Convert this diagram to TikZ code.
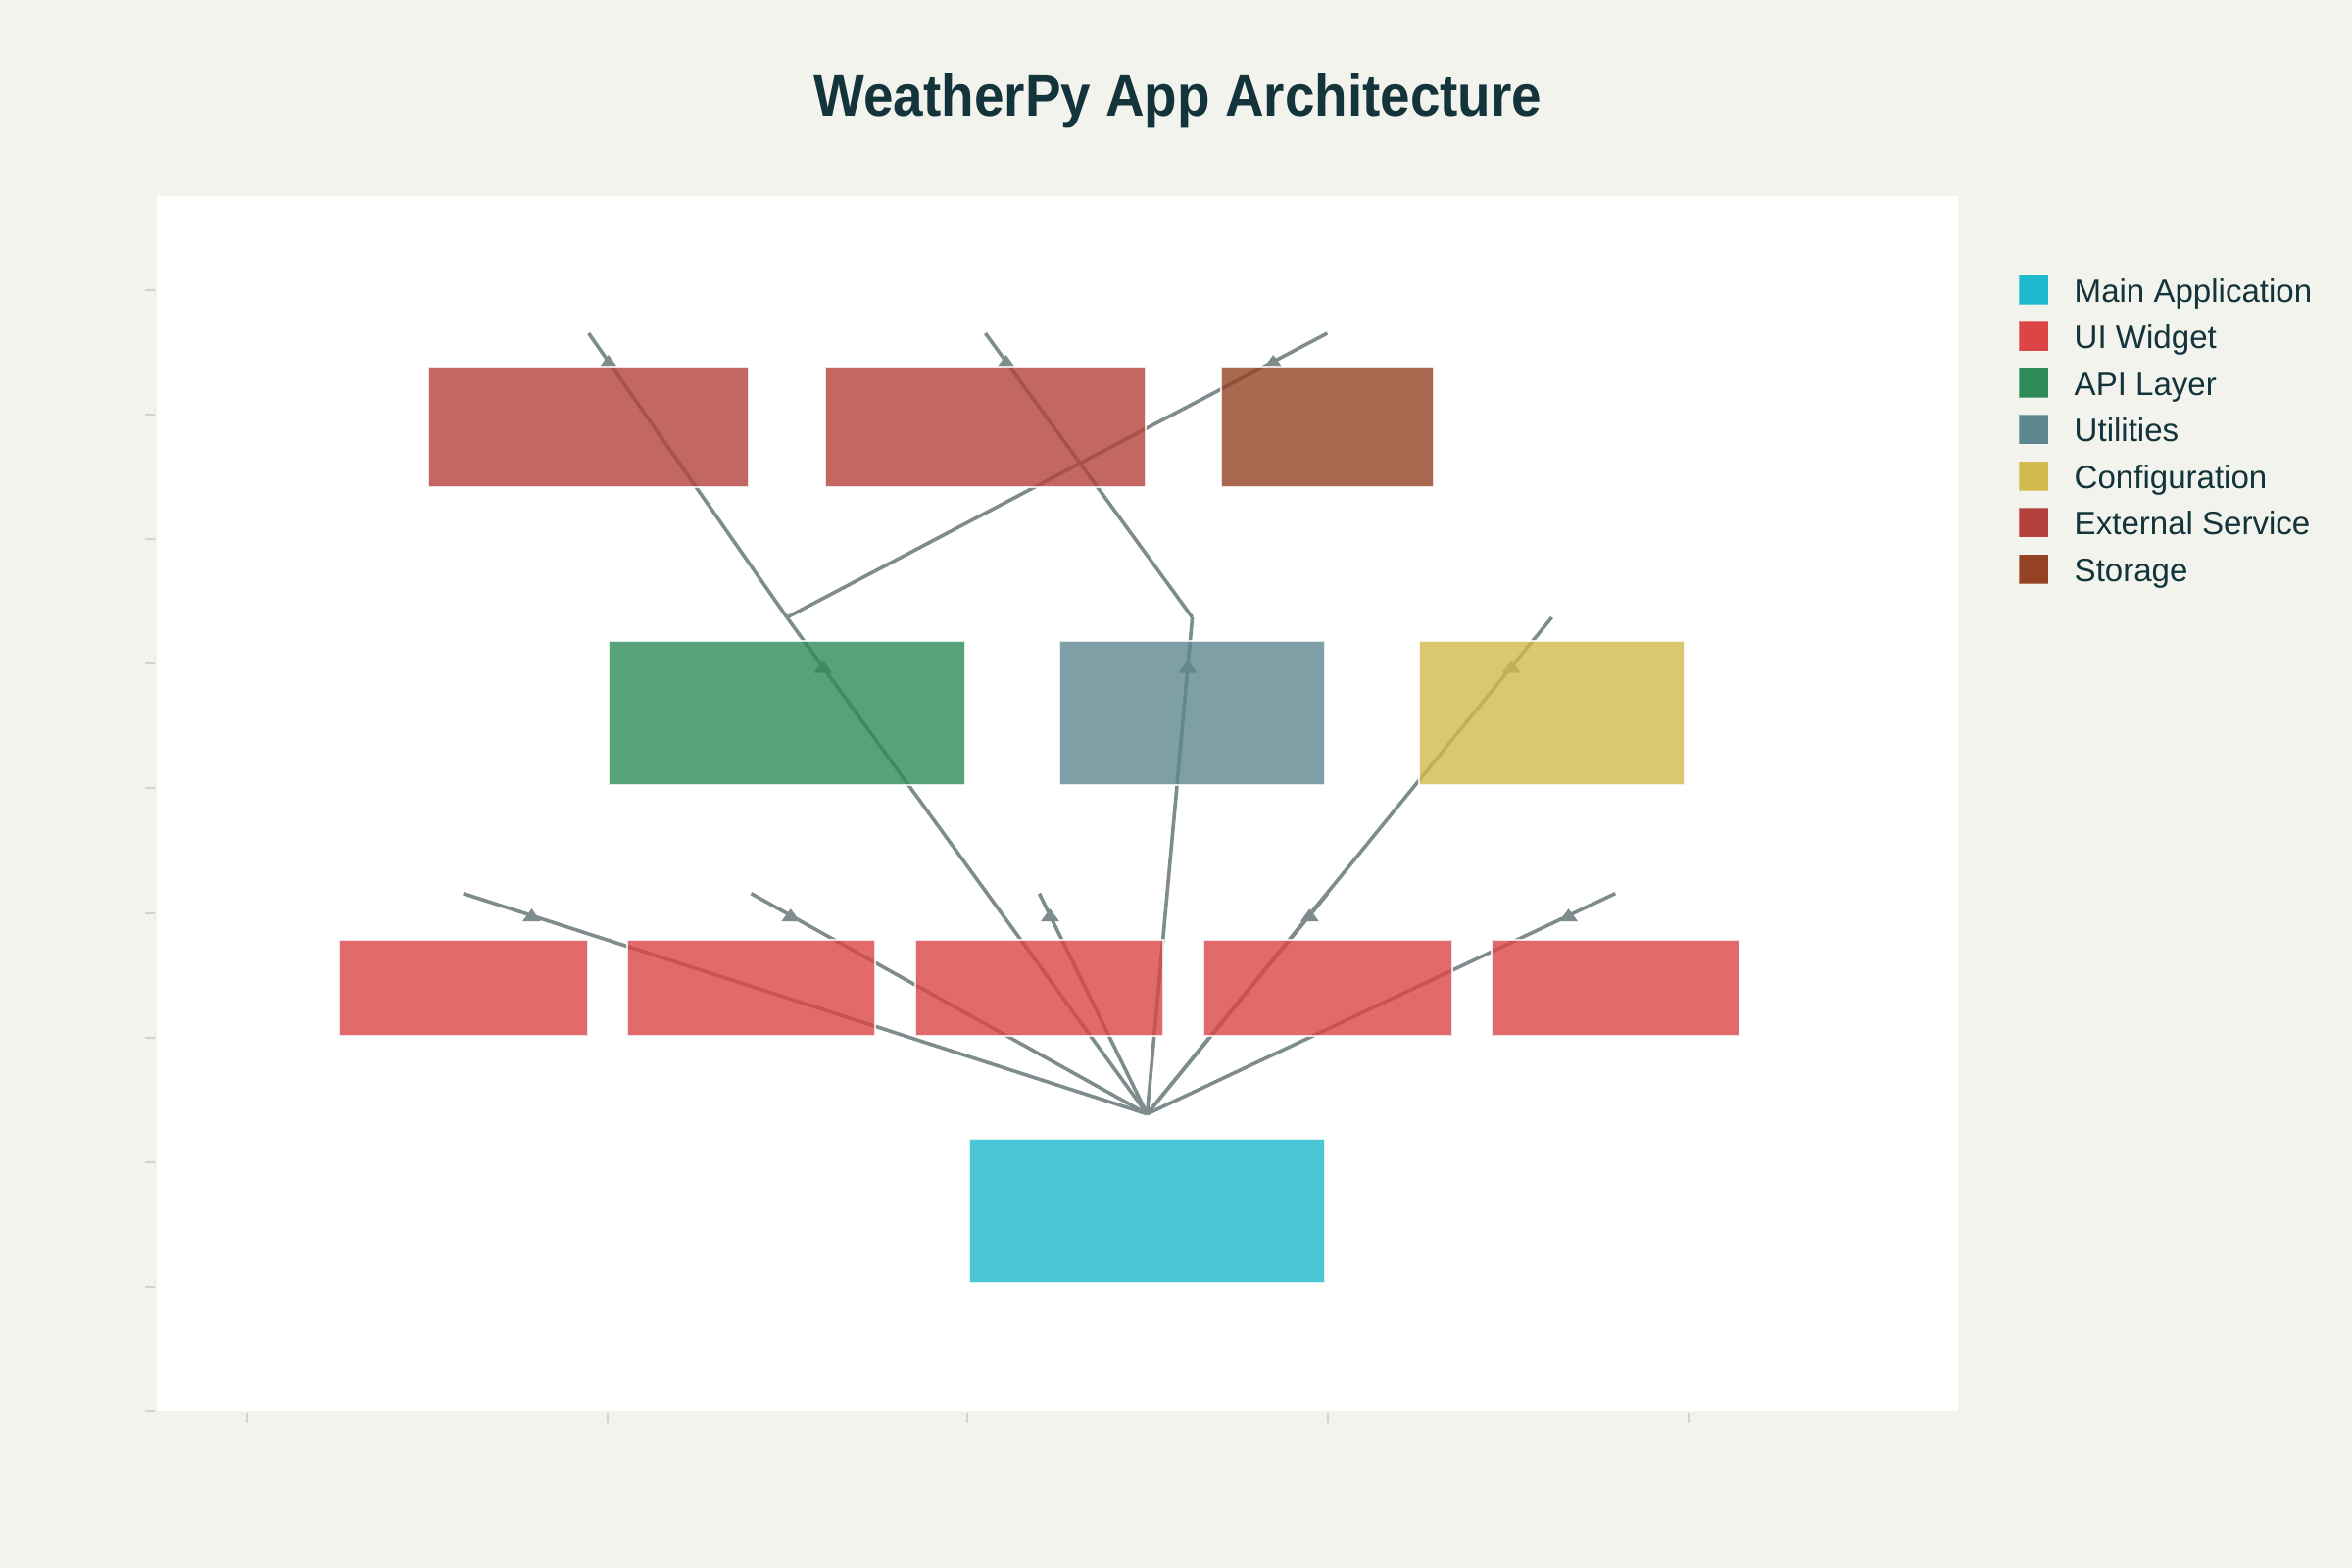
\documentclass[tikz,border=0pt]{standalone}
\usepackage{fontspec}
\usepackage{graphicx}
\setmainfont{Liberation Sans}
\usetikzlibrary{calc,fit}
\definecolor{bgc}{HTML}{F3F3EE}
\definecolor{edgec}{HTML}{7F8C8D}
\definecolor{tickc}{HTML}{D3D2CD}
\definecolor{textc}{HTML}{13343B}
\definecolor{cmain}{HTML}{1FB8CD}
\definecolor{cui}{HTML}{DB4545}
\definecolor{capi}{HTML}{2E8B57}
\definecolor{cutil}{HTML}{5D878F}
\definecolor{cconf}{HTML}{D2BA4C}
\definecolor{cext}{HTML}{B4413C}
\definecolor{cstor}{HTML}{964325}
\begin{document}
\begin{tikzpicture}[x=0.01cm,y=-0.01cm,
  box/.style={draw=white, line width=0.02cm, fill opacity=0.8, draw opacity=0.8, inner sep=0pt},
  edge/.style={draw=edgec, line width=0.036cm},
  tickmark/.style={draw=tickc, line width=0.02cm},
  legtext/.style={anchor=base west, font=\fontsize{9.4}{11}\selectfont, text=textc, inner sep=0pt},
  legsq/.style={fill=#1, draw=white, draw opacity=0.3, line width=0.01cm}]
\useasboundingbox (0,0) rectangle (2400,1600);
\fill[bgc] (0,0) rectangle (2400,1600);
\fill[white] (160,200) rectangle (1998,1440);
% ticks
\foreach \k in {0,...,9} \draw[tickmark] (148,{296+127.1*\k}) -- (158,{296+127.1*\k});
\foreach \xx in {252,619.7,987.4,1355,1722.8} \draw[tickmark] (\xx,1442) -- (\xx,1452);
% label points
\coordinate (pM) at (1170.5,1136.7);
\coordinate (pW1) at (472.7,911.7);
\coordinate (pW2) at (766.4,911.7);
\coordinate (pW3) at (1060.5,911.7);
\coordinate (pW4) at (1354.8,911.7);
\coordinate (pW5) at (1648.3,911.7);
\coordinate (pAPI) at (803,630);
\coordinate (pUTIL) at (1216.6,630);
\coordinate (pCONF) at (1583.5,630);
\coordinate (pEXT1) at (600.7,340);
\coordinate (pEXT2) at (1005.5,340);
\coordinate (pSTOR) at (1354.4,340);
% edges
\foreach \a/\b in {pM/pW1,pM/pW2,pM/pW3,pM/pW4,pM/pW5,pM/pAPI,pM/pUTIL,pM/pCONF,pAPI/pEXT1,pAPI/pSTOR,pUTIL/pEXT2}{
  \draw[edge] (\a) -- (\b);
  \fill[edgec] ($(\a)!0.9!(\b)$) +(0,-7) -- +(-9.5,6) -- +(9.5,6) -- cycle;
}
% boxes
\node[box, fill=cext, fit={(437,374) (764,497)}] (ext1) {};
\node[box, fill=cext, fit={(842,374) (1169,497)}] (ext2) {};
\node[box, fill=cstor, fit={(1246,374) (1463,497)}] (stor) {};
\node[box, fill=capi, fit={(621,654) (985,800.5)}] (api) {};
\node[box, fill=cutil, fit={(1081,654) (1352,800.5)}] (util) {};
\node[box, fill=cconf, fit={(1448,654) (1719,800.5)}] (conf) {};
\node[box, fill=cui, fit={(346,959) (599.5,1056.7)}] (w1) {};
\node[box, fill=cui, fit={(640,959) (893,1056.7)}] (w2) {};
\node[box, fill=cui, fit={(934,959) (1187,1056.7)}] (w3) {};
\node[box, fill=cui, fit={(1228,959) (1481.5,1056.7)}] (w4) {};
\node[box, fill=cui, fit={(1521.6,959) (1775,1056.7)}] (w5) {};
\node[box, fill=cmain, fit={(989,1162.3) (1352.3,1309)}] (main) {};
% legend
\foreach \c/\t [count=\i from 0] in {cmain/Main Application,cui/UI Widget,capi/API Layer,cutil/Utilities,cconf/Configuration,cext/External Service,cstor/Storage}{
  \path[legsq=\c] (2060,{280.5+47.5*\i}) rectangle (2090,{310.5+47.5*\i});
  \node[legtext] (leg\i) at (2116,{308+47.5*\i}) {\t};
}
% title
\node[anchor=base, font=\bfseries\fontsize{15.6}{18}\selectfont, text=textc, inner sep=0pt] (title) at (1202,119) {\scalebox{1}[1.09]{WeatherPy App Architecture}};
\end{tikzpicture}
\end{document}
